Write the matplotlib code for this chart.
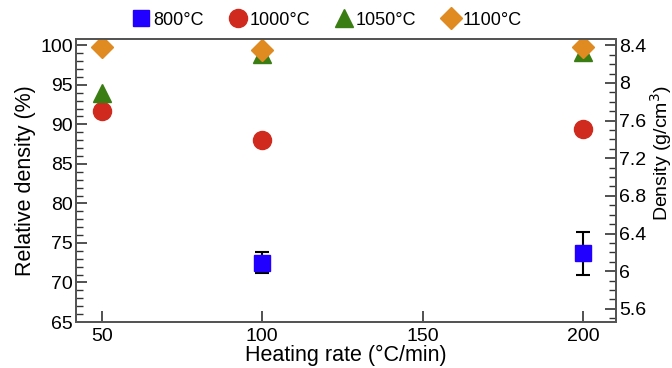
import matplotlib

matplotlib.use("Agg")

import matplotlib.pyplot as plt
from matplotlib.lines import Line2D
from matplotlib.ticker import MultipleLocator

plt.rcParams["font.family"] = ["Liberation Sans", "DejaVu Sans"]

# Data
rates = [50, 100, 200]
rate_800 = [100, 200]
rel_800 = [72.5, 73.7]
err_800 = [1.3, 2.7]
rel_1000 = [91.7, 88.0, 89.4]
rel_1050 = [94.0, 98.9, 99.1]
rel_1100 = [99.8, 99.4, 99.8]
theoretical_density = 8.4  # g/cm3 at 100 %

c800, c1000, c1050, c1100 = "#2200ff", "#d02a1e", "#3a7d12", "#e08a22"

fig = plt.figure(figsize=(6.72, 3.68), dpi=100)
ax = fig.add_axes([0.113, 0.125, 0.804, 0.769])

ax.errorbar(rate_800, rel_800, yerr=err_800, fmt="s", color=c800,
            markersize=11, ecolor="black", elinewidth=1.5, capsize=5,
            capthick=1.5, zorder=3)
ax.plot(rates, rel_1000, "o", color=c1000, markersize=13, zorder=3)
ax.plot(rates, rel_1050, "^", color=c1050, markersize=13, zorder=3)
ax.plot(rates, rel_1100, "D", color=c1100, markersize=11, zorder=4)

ylo, yhi = 65, 100.8
ax.set_xlim(42, 210.3)
ax.set_ylim(ylo, yhi)
ax.xaxis.set_major_locator(MultipleLocator(50))
ax.yaxis.set_major_locator(MultipleLocator(5))
ax.yaxis.set_minor_locator(MultipleLocator(1))
ax.tick_params(axis="both", which="both", direction="in", labelsize=14,
               color="#333333")
ax.tick_params(axis="x", length=8, width=1.2, pad=4)
ax.tick_params(axis="y", which="major", length=8, width=1.2, pad=2)
ax.tick_params(axis="y", which="minor", length=5, width=1.0)
ax.set_xlabel("Heating rate (°C/min)", fontsize=15.5, labelpad=0)
ax.set_ylabel("Relative density (%)", fontsize=15.5, labelpad=3)

ax2 = ax.twinx()
ax2.set_ylim(ylo * theoretical_density / 100, yhi * theoretical_density / 100)
ax2.yaxis.set_major_locator(MultipleLocator(0.4))
ax2.yaxis.set_minor_locator(MultipleLocator(0.1))
ax2.yaxis.set_major_formatter(lambda v, p: f"{v:g}")
ax2.tick_params(axis="y", which="both", direction="in", labelsize=14,
                color="#333333")
ax2.tick_params(axis="y", which="major", length=8, width=1.2, pad=2)
ax2.tick_params(axis="y", which="minor", length=5, width=1.0)

# right axis label sits a bit high, tucked against the tick labels
fig.text(0.983, 0.585, "Density (g/cm$^3$)", rotation=90, fontsize=14,
         ha="center", va="center")

for a in (ax, ax2):
    for s in a.spines.values():
        s.set_color("#555555")
        s.set_linewidth(1.4)

handles = [
    Line2D([], [], ls="none", marker="s", color=c800, markersize=11, label="800°C"),
    Line2D([], [], ls="none", marker="o", color=c1000, markersize=13, label="1000°C"),
    Line2D([], [], ls="none", marker="^", color=c1050, markersize=13, label="1050°C"),
    Line2D([], [], ls="none", marker="D", color=c1100, markersize=11, label="1100°C"),
]
fig.legend(handles=handles, loc="center", ncol=4,
           bbox_to_anchor=(0.485, 0.945), frameon=False, fontsize=13,
           handletextpad=0.05, columnspacing=1.3, handlelength=1.2)

fig.savefig("out.png", dpi=100)
